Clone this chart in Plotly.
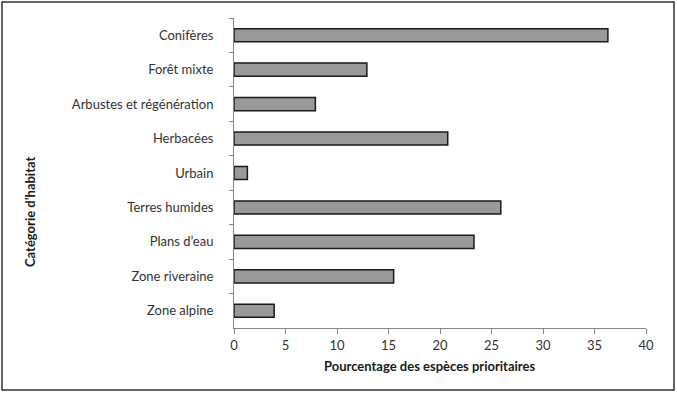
import plotly.graph_objects as go

categories = ["Conifères", "Forêt mixte", "Arbustes et régénération", "Herbacées",
              "Urbain", "Terres humides", "Plans d’eau", "Zone riveraine", "Zone alpine"]
values = [36.3, 12.9, 7.9, 20.75, 1.3, 25.9, 23.3, 15.5, 3.9]
x_ticks = [0, 5, 10, 15, 20, 25, 30, 35, 40]
x_title = "Pourcentage des espèces prioritaires"
y_title = "Catégorie d’habitat"

W, H = 677, 394
L, R, T, B = 234, 31, 18, 66
pw, ph = W - L - R, H - T - B

def px_x(p):
    return (p - L) / pw

def px_y(p):
    return 1 - (p - T) / ph

FONT = "Lato"
fig = go.Figure(go.Bar(
    x=values, y=categories, orientation="h",
    marker=dict(color="#999999", line=dict(color="#1a1a1a", width=1.5)),
))

fig.update_layout(
    width=W, height=H,
    margin=dict(l=L, r=R, t=T, b=B),
    paper_bgcolor="white", plot_bgcolor="white",
    bargap=0.62,
    showlegend=False,
    font=dict(family=FONT, size=13, color="#333333"),
    xaxis=dict(range=[0, 40], tickvals=x_ticks, ticktext=[str(v) for v in x_ticks],
               showgrid=False, zeroline=False, showline=True, linecolor="#868686", linewidth=1,
               ticks="outside", ticklen=5, tickcolor="#868686",
               tickfont=dict(family=FONT, size=13, color="#333333")),
    yaxis=dict(categoryorder="array", categoryarray=categories, autorange="reversed",
               showgrid=False, zeroline=False, showline=True, linecolor="#868686", linewidth=1,
               ticks="outside", ticklen=4, tickcolor="#868686", tickson="boundaries",
               ticklabelstandoff=17,
               tickfont=dict(family=FONT, size=13, color="#333333")),
    shapes=[dict(type="rect", xref="paper", yref="paper",
                 x0=px_x(2), x1=px_x(674), y0=px_y(390), y1=px_y(2),
                 line=dict(color="#333333", width=1.5), fillcolor="rgba(0,0,0,0)", layer="below")],
    annotations=[
        dict(text=f"<b>{x_title}</b>", xref="paper", yref="paper", x=px_x(429), y=px_y(366),
             showarrow=False, xanchor="center", yanchor="middle",
             font=dict(family=FONT, size=13, color="#1a1a1a")),
        dict(text=f"<b>{y_title}</b>", xref="paper", yref="paper", x=px_x(30), y=px_y(212),
             showarrow=False, xanchor="center", yanchor="middle", textangle=-90,
             font=dict(family=FONT, size=13, color="#1a1a1a")),
    ],
)

fig.write_html("out.html", config={"displayModeBar": False},
               post_script="document.body.style.margin='0';")
